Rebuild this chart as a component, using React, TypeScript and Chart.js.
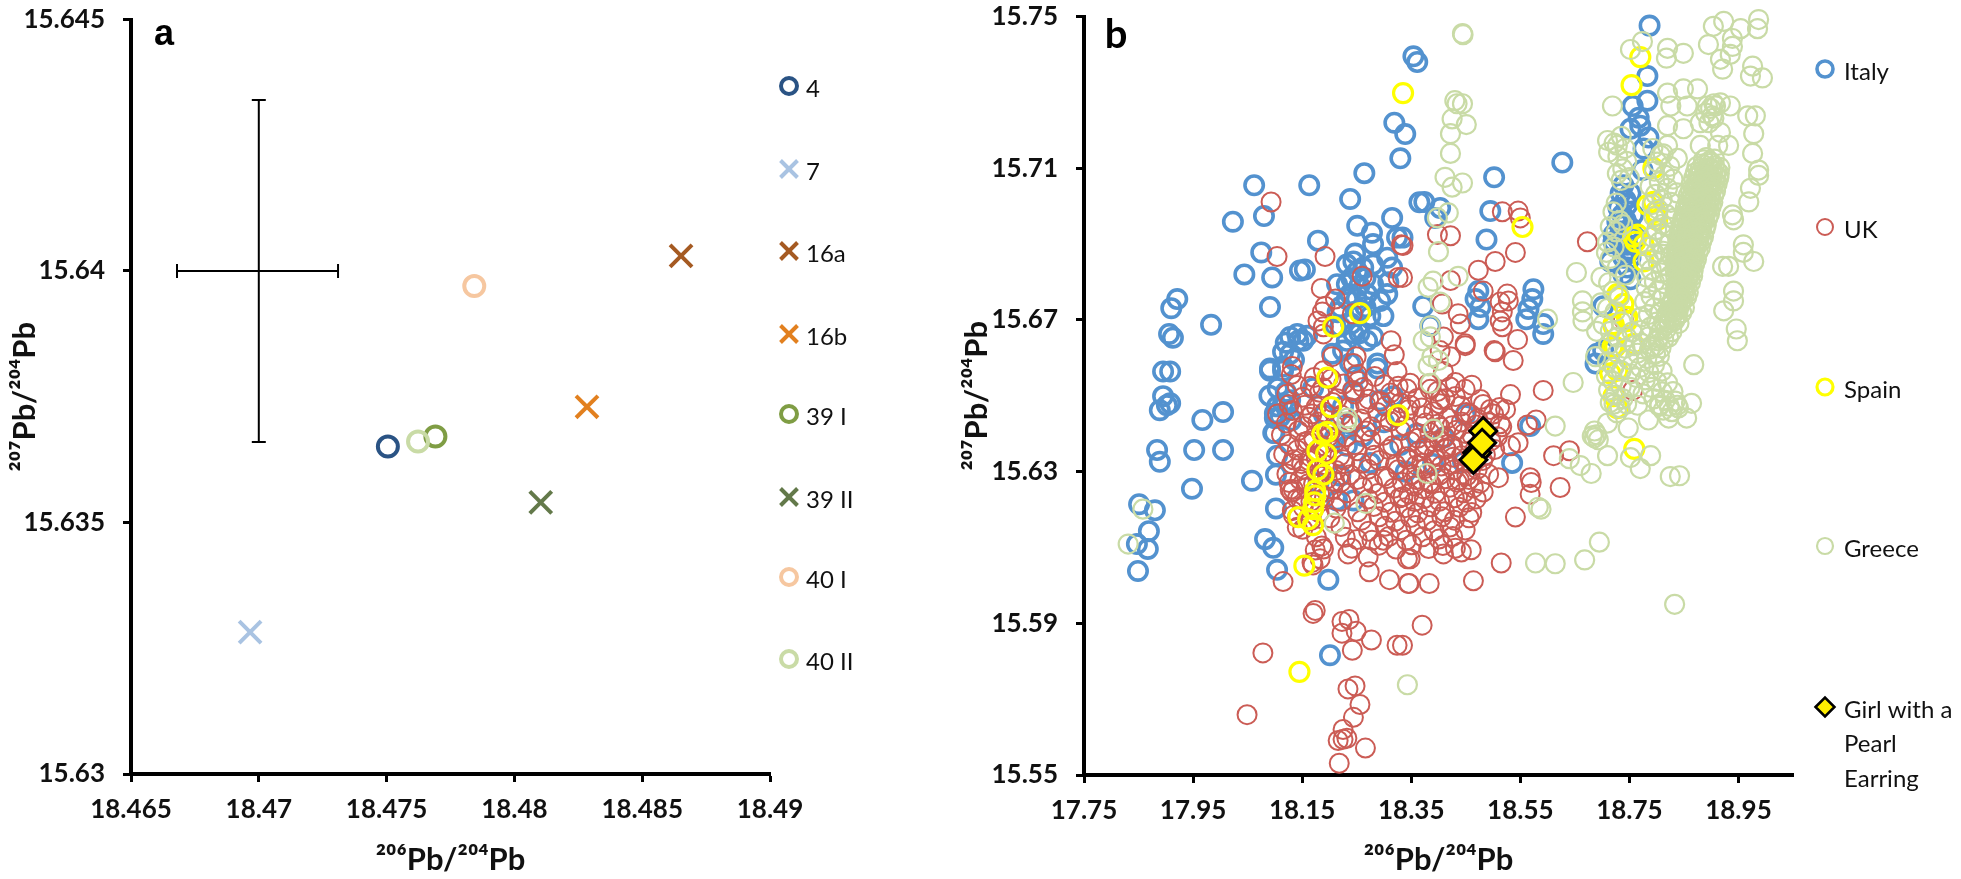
import React, { useEffect, useRef } from "react";
import { Chart, registerables } from "chart.js";
import { drawPoint } from "chart.js/helpers";

Chart.register(...registerables);

type P = [number, number];

const TICK_FONT = "Lato, Carlito, sans-serif";

// ---------- Panel a ----------
const xTicksA = [18.465, 18.47, 18.475, 18.48, 18.485, 18.49];
const yTicksA = [15.63, 15.635, 15.64, 15.645];
const sample4: P[] = [[18.47505, 15.63651]];
const sample7: P[] = [[18.46966, 15.63282]];
const sample16a: P[] = [[18.48652, 15.6403]];
const sample16b: P[] = [[18.48284, 15.6373]];
const sample39I: P[] = [[18.47691, 15.63671]];
const sample39II: P[] = [[18.48103, 15.6354]];
const sample40I: P[] = [[18.47843, 15.6397]];
const sample40II: P[] = [[18.47623, 15.63661]];
const errorV: P[] = [[18.47, 15.6434], [18.47, 15.6366]];
const errorH: P[] = [[18.4668, 15.64], [18.4731, 15.64]];

// ---------- Panel b ----------
const xTicksB = [17.75, 17.95, 18.15, 18.35, 18.55, 18.75, 18.95];
const yTicksB = [15.55, 15.59, 15.63, 15.67, 15.71, 15.75];

const italy: P[] = [
  [18.354,15.7395],[18.361,15.738],[18.319,15.722],[18.339,15.719],[18.33,15.7126],[18.264,15.7087],[18.238,15.7019],[18.163,15.7055],
  [18.062,15.7055],[18.08,15.6974],[18.023,15.6959],[18.251,15.6948],[18.278,15.693],[18.28,15.69],[18.315,15.6969],[18.324,15.6917],
  [18.365,15.701],[18.179,15.6909],[18.075,15.6878],[18.044,15.682],[18.095,15.6812],[18.146,15.683],[18.155,15.6833],[18.091,15.6734],
  [17.921,15.6755],[17.91,15.6731],[17.983,15.6687],[17.906,15.6663],[17.913,15.6653],[17.895,15.6564],[17.908,15.6564],[17.895,15.6499],
  [17.908,15.648],[17.889,15.6462],[17.902,15.6475],[18.005,15.6457],[17.967,15.6436],[17.884,15.6357],[17.952,15.6357],[18.005,15.6357],
  [17.889,15.6326],[17.948,15.6255],[18.058,15.6276],[18.102,15.6292],[18.104,15.6342],[18.099,15.6402],[18.1,15.6441],[18.102,15.6203],
  [17.851,15.6214],[17.88,15.6198],[17.869,15.6143],[17.867,15.6096],[17.847,15.6109],[17.849,15.6038],[18.082,15.6122],[18.097,15.6099],
  [18.104,15.6041],[18.198,15.6015],[18.201,15.5816],
  [18.247,15.6875],[18.232,15.6846],[18.306,15.6864],[18.315,15.6838],[18.262,15.6838],[18.251,15.6828],[18.244,15.6854],[18.28,15.6846],
  [18.214,15.6794],[18.238,15.6768],[18.306,15.6768],[18.308,15.6799],[18.293,15.675],[18.299,15.671],[18.269,15.6768],[18.28,15.6794],
  [18.232,15.6794],[18.266,15.6734],[18.22,15.6734],[18.28,15.6656],[18.244,15.6664],[18.269,15.6645],[18.232,15.6645],[18.22,15.6682],
  [18.211,15.6684],[18.288,15.6585],[18.205,15.6611],[18.238,15.6585],[18.225,15.6619],[18.141,15.6663],[18.159,15.6658],[18.128,15.6655],
  [18.143,15.6645],[18.152,15.6645],[18.115,15.6616],[18.128,15.6611],[18.091,15.6572],[18.115,15.6577],[18.091,15.6566],[18.115,15.6566],
  [18.288,15.6572],[18.247,15.6551],[18.244,15.6512],[18.104,15.6472],[18.115,15.648],[18.1,15.6454],[18.123,15.6462],[18.097,15.6402],
  [18.128,15.6488],[18.225,15.6472],[18.262,15.6394],[18.232,15.6368],[18.275,15.6323],[18.22,15.6289],[18.214,15.6224],[18.244,15.6224],
  [18.293,15.6488],[18.317,15.6499],[18.449,15.6449],[18.568,15.642],[18.535,15.6323],[18.627,15.7115],[18.502,15.7076],[18.374,15.7011],
  [18.403,15.6995],[18.394,15.6969],[18.495,15.6987],[18.488,15.6912],[18.334,15.6917],[18.574,15.6781],[18.572,15.6755],[18.565,15.6729],
  [18.561,15.6702],[18.592,15.6689],[18.592,15.6663],[18.473,15.6776],[18.468,15.6755],[18.477,15.6734],[18.473,15.6702],[18.372,15.6736],
  [18.385,15.6684],
  [18.787,15.7476],[18.783,15.7343],[18.783,15.7278],[18.767,15.7233],[18.756,15.7264],[18.785,15.7181],[18.77,15.7212],[18.752,15.7204],
  [18.776,15.7152],[18.774,15.7095],[18.739,15.7055],[18.734,15.7034],[18.752,15.7034],[18.73,15.6995],[18.746,15.7003],[18.728,15.6959],
  [18.757,15.6977],[18.734,15.6933],[18.752,15.6943],[18.721,15.6925],[18.761,15.6917],[18.721,15.6906],[18.746,15.6898],[18.739,15.6864],
  [18.752,15.6864],[18.715,15.6854],[18.746,15.6838],[18.752,15.6807],[18.739,15.682],[18.702,15.6736],[18.691,15.6611],[18.702,15.6619],
  [18.688,15.6585],[18.743,15.7016],[18.737,15.6977],[18.743,15.6964],[18.748,15.6925],[18.737,15.6898],[18.73,15.6911],[18.743,15.6877],
  [18.752,15.6882],
  [18.24,15.681],[18.255,15.679],[18.266,15.681],[18.25,15.6755],[18.232,15.6755],[18.258,15.6725],[18.275,15.671],[18.24,15.669],
  [18.255,15.6665],[18.215,15.672],[18.12,15.664],[18.135,15.6595],[18.105,15.652],[18.12,15.651],[18.09,15.65],[18.11,15.6445],[18.13,15.6435],
  [18.3,15.643],[18.33,15.637],[18.36,15.64],[18.34,15.63],[18.39,15.632],[18.41,15.639],[18.445,15.6325],[18.17,15.652],[18.19,15.645],
  [18.21,15.639],[18.18,15.627],[18.24,15.6425],
];

const ukSparse: P[] = [
  [18.093,15.7011],[18.104,15.6867],[18.192,15.6867],[18.332,15.6898],[18.326,15.6812],[18.26,15.6815],[18.185,15.6783],[18.211,15.6755],
  [18.192,15.6736],[18.187,15.6721],[18.179,15.6697],[18.189,15.6682],[18.189,15.6663],[18.242,15.6716],[18.313,15.6645],[18.319,15.6608],
  [18.324,15.6564],[18.205,15.6603],[18.249,15.6603],[18.244,15.6585],[18.251,15.6556],[18.132,15.6577],[18.198,15.6548],[18.165,15.6525],
  [18.155,15.6475],[18.189,15.6566],[18.242,15.6514],[18.293,15.6485],[18.348,15.6533],[18.326,15.6525],
  [18.517,15.6985],[18.546,15.6987],[18.55,15.6969],[18.398,15.6925],[18.422,15.6922],[18.335,15.6896],[18.673,15.6906],[18.541,15.6878],
  [18.504,15.6854],[18.473,15.6831],[18.422,15.6804],[18.334,15.6812],[18.526,15.6768],[18.482,15.6776],[18.513,15.6747],[18.528,15.675],
  [18.436,15.6716],[18.517,15.6721],[18.513,15.6697],[18.407,15.6742],[18.44,15.6689],[18.517,15.6682],[18.545,15.6648],[18.502,15.6619],
  [18.449,15.6637],[18.537,15.6593],[18.592,15.6514],[18.756,15.6514],[18.739,15.6702],[18.409,15.6655],[18.403,15.6619],[18.422,15.6603],
  [18.504,15.6616],[18.449,15.6632],[18.563,15.6423],[18.579,15.6436],[18.546,15.6376],[18.532,15.6368],[18.611,15.6342],[18.64,15.6355],
  [18.568,15.6284],[18.57,15.6271],[18.568,15.624],[18.623,15.6258],[18.541,15.618],[18.51,15.6284],[18.515,15.6059],[18.464,15.6012],
  [18.383,15.6005],[18.346,15.6005],[18.37,15.5895],[18.334,15.5842],[18.46,15.6094],[18.442,15.6088],[18.409,15.6083],
  [18.115,15.601],[18.174,15.5934],[18.17,15.5926],[18.236,15.591],[18.223,15.5905],[18.223,15.5874],[18.249,15.5879],[18.277,15.5856],
  [18.324,15.5842],[18.242,15.5829],[18.078,15.5822],[18.247,15.5735],[18.234,15.5727],[18.256,15.5686],[18.244,15.5652],[18.225,15.562],
  [18.216,15.5591],[18.232,15.5597],[18.225,15.5594],[18.266,15.5571],[18.218,15.5531],[18.049,15.5659],
  [18.234,15.6083],[18.189,15.6096],[18.174,15.6093],[18.183,15.607],[18.17,15.6054],[18.168,15.606],[18.229,15.6127],[18.273,15.6036],
  [18.31,15.6015],[18.345,15.6005],[18.278,15.6119],[18.299,15.6119],[18.271,15.6075],[18.343,15.607],[18.348,15.607],[18.141,15.6153],
  [18.134,15.6185],[18.128,15.6253],[18.134,15.6253],[18.134,15.6331],
];

const ukCore: P[] = [
  [18.13,15.6556],[18.172,15.6548],[18.203,15.6544],[18.253,15.6538],[18.283,15.6551],
  [18.122,15.6504],[18.151,15.6496],[18.182,15.6509],[18.214,15.6492],[18.246,15.6505],[18.272,15.6491],[18.312,15.6507],[18.361,15.6493],[18.398,15.6511],[18.431,15.6498],
  [18.105,15.6452],[18.132,15.6461],[18.163,15.6443],[18.191,15.6457],[18.222,15.6449],[18.258,15.6439],[18.288,15.6456],[18.321,15.6444],[18.345,15.6463],[18.372,15.6447],[18.391,15.6458],[18.418,15.6441],[18.451,15.6456],[18.472,15.6439],[18.501,15.6452],
  [18.112,15.6397],[18.143,15.6408],[18.171,15.6389],[18.202,15.6404],[18.231,15.6392],[18.267,15.6407],[18.298,15.6395],[18.331,15.6408],[18.362,15.6388],[18.384,15.6403],[18.412,15.6391],[18.433,15.6409],[18.462,15.6394],[18.481,15.6406],[18.508,15.6392],
  [18.116,15.6346],[18.141,15.6357],[18.166,15.6338],[18.192,15.6352],[18.219,15.6341],[18.251,15.6355],[18.282,15.6343],[18.309,15.6358],[18.341,15.6339],[18.364,15.6354],[18.392,15.6343],[18.414,15.6359],[18.442,15.6342],[18.466,15.6356],[18.486,15.6344],[18.503,15.6358],
  [18.122,15.6294],[18.153,15.6307],[18.181,15.6289],[18.212,15.6303],[18.238,15.6292],[18.271,15.6306],[18.301,15.6288],[18.326,15.6305],[18.352,15.6293],[18.376,15.6308],[18.402,15.6291],[18.428,15.6304],[18.452,15.6289],[18.471,15.6306],[18.492,15.6293],
  [18.131,15.6246],[18.157,15.6257],[18.182,15.6241],[18.206,15.6254],[18.232,15.6244],[18.261,15.6258],[18.289,15.6242],[18.318,15.6256],[18.346,15.6241],[18.371,15.6255],[18.394,15.6243],[18.421,15.6259],[18.446,15.6244],[18.464,15.6257],[18.482,15.6246],
  [18.132,15.6197],[18.152,15.6206],[18.181,15.6192],[18.212,15.6204],[18.252,15.6194],[18.281,15.6208],[18.312,15.6193],[18.339,15.6205],[18.362,15.6191],[18.386,15.6207],[18.411,15.6194],[18.438,15.6206],[18.461,15.6192],
  [18.151,15.6148],[18.221,15.6155],[18.272,15.6143],[18.302,15.6156],[18.331,15.6147],[18.358,15.6158],[18.392,15.6144],[18.421,15.6154],[18.449,15.6146],
  [18.186,15.6104],[18.241,15.6098],[18.291,15.6106],[18.322,15.6096],[18.351,15.6107],[18.382,15.6097],[18.408,15.6105],[18.431,15.6098],
  [18.409,15.6564],[18.431,15.6535],[18.449,15.6517],[18.477,15.649],[18.495,15.6464],[18.532,15.6503],[18.523,15.6464],[18.385,15.6517],[18.403,15.649],[18.348,15.6475],[18.412,15.6492],[18.458,15.6452],[18.513,15.6426],
  [18.425,15.6421],[18.392,15.6378],[18.375,15.6362],[18.427,15.6338],[18.405,15.6315],[18.438,15.6278],[18.383,15.6271],[18.359,15.6317],[18.356,15.6262],[18.335,15.6234],[18.413,15.6362],[18.447,15.6401],[18.398,15.6425],
  [18.168,15.6452],[18.155,15.6378],[18.149,15.6321],[18.16,15.6267],[18.147,15.6228],[18.196,15.6302],[18.176,15.6335],[18.198,15.6392],[18.21,15.6274],[18.228,15.6321],
];

const ukCoreInfill: P[] = [
  [18.141,15.6527],[18.188,15.6521],[18.226,15.6531],[18.262,15.6522],[18.301,15.6529],[18.342,15.6518],[18.381,15.6531],[18.421,15.6523],[18.461,15.6528],
  [18.126,15.6476],[18.176,15.6471],[18.206,15.6482],[18.236,15.6469],[18.266,15.6478],[18.303,15.6472],[18.331,15.6481],[18.369,15.6468],[18.402,15.6479],[18.441,15.6473],[18.482,15.6477],[18.512,15.6469],
  [18.121,15.6428],[18.152,15.6419],[18.179,15.6431],[18.209,15.6422],[18.241,15.6429],[18.276,15.6418],[18.311,15.6432],[18.338,15.6421],[18.376,15.6428],[18.403,15.6417],[18.442,15.6431],[18.469,15.6423],[18.494,15.6429],[18.516,15.6418],
  [18.126,15.6372],[18.161,15.6381],[18.186,15.6369],[18.211,15.6378],[18.246,15.6371],[18.276,15.6383],[18.316,15.6368],[18.349,15.6379],[18.377,15.6371],[18.401,15.6382],[18.426,15.6369],[18.456,15.6378],[18.476,15.6372],[18.496,15.6381],
  [18.131,15.6321],[18.162,15.6329],[18.191,15.6318],[18.226,15.6331],[18.259,15.6322],[18.291,15.6329],[18.321,15.6319],[18.344,15.6332],[18.369,15.6322],[18.396,15.6331],[18.419,15.6319],[18.446,15.6328],[18.461,15.6321],[18.481,15.6329],
  [18.126,15.6271],[18.146,15.6279],[18.171,15.6268],[18.196,15.6281],[18.221,15.6272],[18.251,15.6279],[18.279,15.6269],[18.306,15.6282],[18.334,15.6271],[18.359,15.6279],[18.386,15.6268],[18.412,15.6281],[18.434,15.6272],[18.456,15.6279],[18.476,15.6269],
  [18.141,15.6229],[18.166,15.6221],[18.191,15.6231],[18.221,15.6222],[18.271,15.6228],[18.301,15.6219],[18.329,15.6231],[18.356,15.6221],[18.374,15.6229],[18.402,15.6222],[18.429,15.6231],[18.451,15.6219],[18.469,15.6228],
  [18.141,15.6179],[18.166,15.6171],[18.201,15.6178],[18.259,15.6172],[18.291,15.6181],[18.321,15.6169],[18.349,15.6179],[18.379,15.6171],[18.406,15.6181],[18.429,15.6172],[18.456,15.6178],
  [18.176,15.6128],[18.251,15.6121],[18.309,15.6129],[18.341,15.6119],[18.371,15.6128],[18.401,15.6122],[18.426,15.6129],
];

const spain: P[] = [
  [18.196,15.6548],[18.203,15.647],[18.187,15.6399],[18.196,15.6405],[18.178,15.6355],[18.194,15.6347],[18.178,15.6305],[18.189,15.6292],
  [18.174,15.625],[18.174,15.6237],[18.172,15.6219],[18.17,15.6201],[18.143,15.618],[18.17,15.6159],[18.161,15.6174],[18.326,15.6449],
  [18.154,15.6052],[18.145,15.5772],[18.207,15.6682],[18.256,15.6718],[18.335,15.7298],[18.554,15.6945],[18.77,15.7393],[18.754,15.7319],
  [18.757,15.6919],[18.783,15.7003],[18.765,15.6925],[18.798,15.6985],[18.801,15.6964],[18.794,15.7011],[18.801,15.6975],[18.776,15.6854],
  [18.728,15.6768],[18.721,15.6689],[18.746,15.6697],[18.719,15.6629],[18.728,15.6467],[18.728,15.6566],[18.757,15.6637],[18.739,15.6742],
  [18.794,15.71],[18.759,15.636],[18.73,15.676],[18.721,15.6684],[18.724,15.6629],[18.746,15.6708],[18.715,15.6559],[18.721,15.6499],
  [18.776,15.6898],[18.761,15.6906],
];

const greeceSparse: P[] = [
  [17.831,15.6109],[17.858,15.6201],[18.209,15.6164],[18.267,15.6216],[18.343,15.5738],[18.233,15.6441],[18.232,15.6431],[18.391,15.6412],
  [18.379,15.6295],[18.614,15.642],[18.583,15.6206],[18.588,15.6201],[18.695,15.6114],[18.668,15.6067],[18.578,15.6059],[18.614,15.6057],
  [18.833,15.595],[18.64,15.6334],[18.66,15.6316],[18.68,15.6295],[18.825,15.6287],[18.842,15.6289],[18.71,15.6342],[18.752,15.6337],
  [18.789,15.6342],[18.77,15.6308],[18.686,15.6407],[18.69,15.6397],[18.686,15.6389],[18.682,15.6394],[18.693,15.6384],[18.71,15.6428],
  [18.748,15.6415],[18.785,15.6436],[18.822,15.6441],[18.855,15.6441],[18.765,15.6475],[18.805,15.6472],[18.838,15.6475],[18.864,15.648],
  [18.444,15.7455],[18.445,15.7452],[18.43,15.7278],[18.434,15.727],[18.444,15.727],[18.425,15.723],[18.451,15.7215],[18.422,15.7191],
  [18.422,15.7139],[18.412,15.7076],[18.444,15.7061],[18.425,15.705],[18.418,15.6982],[18.398,15.6969],[18.4,15.688],[18.436,15.6815],
  [18.39,15.6802],[18.403,15.6747],[18.381,15.6786],[18.385,15.6684],[18.372,15.6645],[18.385,15.6655],[18.4,15.6593],[18.388,15.6603],
  [18.381,15.6579],[18.385,15.6533],[18.6,15.6702],
  [18.647,15.6535],[18.653,15.6825],[18.664,15.675],[18.664,15.6721],[18.665,15.6697],[18.69,15.667],[18.688,15.6603],[18.719,15.7264],
  [18.71,15.7173],[18.728,15.716],[18.752,15.7413],[18.774,15.7434],[18.82,15.7416],[18.818,15.739],[18.849,15.7403],[18.904,15.7474],
  [18.923,15.7487],[18.954,15.7468],[18.987,15.7492],[18.985,15.7468],[18.895,15.7426],[18.939,15.7442],[18.939,15.7421],[18.935,15.74],
  [18.917,15.7387],[18.921,15.7361],[18.976,15.7369],[18.972,15.7343],[18.994,15.7338],[18.967,15.7238],[18.981,15.7238],[18.978,15.7191],
  [18.976,15.7139],[18.987,15.7095],[18.987,15.7081],[18.972,15.7047],[18.969,15.7011],[18.941,15.6964],[18.939,15.6977],[18.959,15.6898],
  [18.978,15.6854],[18.959,15.6878],[18.921,15.6841],[18.932,15.6841],[18.941,15.6776],[18.941,15.675],[18.923,15.6724],[18.946,15.6676],
  [18.948,15.6645],[18.868,15.6582],
  [18.82,15.7298],[18.849,15.7309],[18.875,15.7309],[18.826,15.7264],[18.856,15.7264],[18.893,15.7264],[18.917,15.7272],[18.935,15.7264],
  [18.902,15.7238],[18.82,15.7212],[18.849,15.7204],[18.88,15.722],[18.917,15.7194],[18.82,15.716],[18.807,15.7134],[18.838,15.7126],
  [18.88,15.716],[18.912,15.716],[18.896,15.722],[18.908,15.7264],[18.899,15.7258],[18.905,15.727],[18.932,15.716],[18.89,15.7245],[18.905,15.7232],
];

const greeceBand: P[] = [
  [18.886,15.7122],[18.897,15.7118],[18.906,15.7124],
  [18.874,15.7104],[18.886,15.7108],[18.896,15.7101],[18.906,15.7106],[18.916,15.7102],
  [18.871,15.7088],[18.882,15.7092],[18.893,15.7085],[18.904,15.7091],[18.915,15.7086],
  [18.868,15.7074],[18.879,15.707],[18.891,15.7076],[18.902,15.7069],[18.914,15.7075],
  [18.864,15.7058],[18.876,15.7054],[18.888,15.706],[18.899,15.7053],[18.911,15.7059],
  [18.862,15.7042],[18.873,15.7046],[18.884,15.7039],[18.896,15.7045],[18.908,15.704],
  [18.858,15.7028],[18.87,15.7024],[18.882,15.703],[18.893,15.7023],[18.905,15.7029],
  [18.857,15.7012],[18.868,15.7016],[18.879,15.7009],[18.891,15.7015],[18.903,15.701],
  [18.853,15.6998],[18.865,15.6994],[18.876,15.7],[18.888,15.6993],[18.9,15.6999],
  [18.851,15.6982],[18.862,15.6986],[18.874,15.6979],[18.885,15.6985],[18.897,15.698],
  [18.848,15.6968],[18.859,15.6964],[18.871,15.697],[18.883,15.6963],[18.894,15.6969],
  [18.846,15.6952],[18.857,15.6956],[18.868,15.6949],[18.88,15.6955],[18.891,15.695],
  [18.843,15.6938],[18.854,15.6934],[18.866,15.694],[18.877,15.6933],[18.889,15.6939],
  [18.841,15.6922],[18.852,15.6926],[18.863,15.6919],[18.875,15.6925],[18.886,15.692],
  [18.839,15.6908],[18.85,15.6904],[18.861,15.691],[18.872,15.6903],[18.883,15.6909],
  [18.838,15.6892],[18.848,15.6896],[18.858,15.6889],[18.869,15.6895],[18.88,15.689],
  [18.836,15.6878],[18.846,15.6874],[18.856,15.688],[18.866,15.6873],[18.876,15.6879],
  [18.835,15.6862],[18.845,15.6866],[18.854,15.6859],[18.864,15.6865],[18.873,15.686],
  [18.834,15.6848],[18.843,15.6844],[18.852,15.685],[18.861,15.6843],[18.87,15.6849],
  [18.834,15.6832],[18.842,15.6836],[18.85,15.6829],[18.859,15.6835],[18.867,15.683],
  [18.835,15.6815],[18.843,15.6811],[18.851,15.6817],[18.858,15.681],[18.866,15.6816],
  [18.836,15.6795],[18.845,15.6799],[18.853,15.6792],[18.862,15.6798],
  [18.834,15.6778],[18.843,15.6774],[18.851,15.678],[18.858,15.6773],
  [18.83,15.6757],[18.839,15.6761],[18.847,15.6754],[18.855,15.676],
  [18.825,15.6738],[18.834,15.6734],[18.843,15.674],[18.851,15.6733],
  [18.819,15.6716],[18.829,15.672],[18.838,15.6713],[18.846,15.6719],
  [18.813,15.6696],[18.823,15.6692],[18.833,15.6698],[18.841,15.6691],
  [18.808,15.6672],[18.818,15.6676],[18.828,15.6669],
  [18.803,15.6652],[18.813,15.6648],[18.822,15.6654],
  [18.797,15.663],[18.808,15.6626],[18.787,15.6622],[18.798,15.6611],
];

const greeceBandInfill: P[] = [
  [18.891,15.7128],[18.901,15.7113],[18.88,15.7098],[18.89,15.7094],[18.9,15.7096],[18.91,15.7094],[18.876,15.708],[18.887,15.7083],[18.898,15.7079],[18.909,15.7081],
  [18.873,15.7064],[18.884,15.7066],[18.895,15.7063],[18.907,15.7066],[18.869,15.7049],[18.881,15.705],[18.892,15.7048],[18.904,15.7051],[18.866,15.7034],[18.877,15.7035],
  [18.889,15.7033],[18.9,15.7036],[18.863,15.702],[18.875,15.7019],[18.887,15.7021],[18.898,15.7018],[18.86,15.7005],[18.872,15.7004],[18.884,15.7006],[18.896,15.7003],
  [18.857,15.699],[18.869,15.6989],[18.881,15.6991],[18.892,15.6988],[18.854,15.6975],[18.866,15.6974],[18.878,15.6976],[18.889,15.6973],[18.851,15.696],[18.863,15.6959],
  [18.875,15.6961],[18.886,15.6958],[18.849,15.6945],[18.86,15.6944],[18.872,15.6946],[18.883,15.6943],[18.847,15.693],[18.858,15.6929],[18.869,15.6931],[18.881,15.6928],
  [18.845,15.6915],[18.856,15.6914],[18.867,15.6916],[18.878,15.6913],[18.843,15.69],[18.853,15.6899],[18.864,15.6901],[18.875,15.6898],[18.841,15.6885],[18.851,15.6884],
  [18.861,15.6886],[18.871,15.6883],[18.84,15.687],[18.85,15.6869],[18.859,15.6871],[18.869,15.6868],[18.839,15.6855],[18.848,15.6854],[18.857,15.6856],[18.866,15.6853],
  [18.838,15.684],[18.847,15.6839],[18.855,15.6841],[18.863,15.6838],[18.838,15.6823],[18.846,15.6822],[18.854,15.6824],[18.861,15.6821],[18.84,15.6805],[18.848,15.6804],
  [18.856,15.6806],[18.84,15.6786],[18.848,15.6785],[18.856,15.6787],[18.836,15.6767],[18.844,15.6766],[18.851,15.6768],[18.83,15.6746],[18.838,15.6745],[18.846,15.6747],
  [18.824,15.6726],[18.832,15.6725],[18.84,15.6727],[18.818,15.6705],[18.827,15.6704],[18.836,15.6706],
];

const greeceFlank: P[] = [
  [18.793,15.7152],[18.812,15.7138],[18.801,15.7116],[18.824,15.7105],[18.796,15.7092],[18.815,15.7082],[18.83,15.7071],[18.805,15.7064],
  [18.788,15.7052],[18.82,15.7047],[18.837,15.7035],[18.798,15.7031],[18.81,15.7018],[18.826,15.701],[18.792,15.7004],[18.803,15.6991],
  [18.818,15.6978],[18.832,15.6968],[18.795,15.6972],[18.81,15.6952],[18.824,15.6944],[18.8,15.6938],[18.815,15.6922],[18.792,15.6918],
  [18.805,15.6905],[18.822,15.69],[18.786,15.6892],[18.812,15.6881],[18.797,15.6874],[18.826,15.687],[18.785,15.6858],[18.803,15.6851],
  [18.818,15.6842],[18.79,15.6832],[18.808,15.6824],[18.824,15.6816],[18.782,15.6812],[18.796,15.68],[18.815,15.6795],[18.803,15.6778],
  [18.781,15.6785],[18.79,15.6762],[18.812,15.6758],[18.826,15.6742],[18.778,15.6748],[18.796,15.6732],[18.807,15.672],[18.785,15.6714],
  [18.772,15.6708],[18.8,15.6694],[18.815,15.6685],[18.789,15.6681],[18.771,15.6672],[18.785,15.6655],[18.802,15.6645],[18.772,15.6638],
  [18.79,15.6628],[18.765,15.6612],[18.782,15.6598],[18.805,15.6604],[18.796,15.6582],[18.77,15.6575],[18.786,15.6561],[18.81,15.6565],
  [18.779,15.6542],[18.763,15.6548],[18.8,15.6538],[18.82,15.6534],[18.79,15.6522],[18.81,15.651],[18.775,15.6505],[18.83,15.6511],
  [18.795,15.6492],[18.816,15.6488],[18.806,15.6476],[18.834,15.6486],[18.823,15.6472],[18.812,15.6462],[18.84,15.6468],[18.828,15.6458],
  [18.735,15.7184],[18.722,15.7166],[18.742,15.7152],[18.729,15.7131],[18.712,15.7142],[18.745,15.7118],[18.738,15.7098],[18.728,15.7086],
  [18.75,15.7075],[18.735,15.7068],[18.726,15.7008],[18.72,15.6985],[18.732,15.6962],[18.715,15.6946],[18.738,15.6951],[18.726,15.6932],
  [18.71,15.6905],[18.722,15.6892],[18.708,15.6878],[18.715,15.6862],[18.728,15.6838],[18.743,15.6818],[18.698,15.6812],[18.712,15.6798],
  [18.72,15.6775],[18.732,15.6762],[18.698,15.6745],[18.71,15.673],[18.724,15.6722],[18.735,15.6695],[18.702,15.6688],[18.715,15.667],
  [18.728,15.6654],[18.745,15.6655],[18.755,15.6668],[18.76,15.6632],[18.742,15.6625],[18.712,15.6635],[18.728,15.6612],[18.748,15.6596],
  [18.71,15.659],[18.722,15.6575],[18.735,15.6566],[18.752,15.6558],[18.708,15.6552],[18.72,15.6538],[18.735,15.6525],[18.751,15.6522],
  [18.712,15.6515],[18.725,15.6502],[18.738,15.6492],[18.722,15.6478],[18.733,15.6468],[18.715,15.6482],[18.745,15.6478],[18.727,15.6455],
];

const girlPearl: P[] = [[18.471, 15.635], [18.482, 15.6407], [18.464, 15.6331], [18.48, 15.6376]];

const legendA = [
  { label: "4", top: 86 },
  { label: "7", top: 169 },
  { label: "16a", top: 251 },
  { label: "16b", top: 334 },
  { label: "39 I", top: 414 },
  { label: "39 II", top: 497 },
  { label: "40 I", top: 577 },
  { label: "40 II", top: 659 },
];
const legendB = [
  { label: ["Italy"], top: 69 },
  { label: ["UK"], top: 227 },
  { label: ["Spain"], top: 387 },
  { label: ["Greece"], top: 546 },
  { label: ["Girl with a", "Pearl", "Earring"], top: 707 },
];

function style(order: number, color: string, shape: string, r: number, bw: number, fill = "transparent") {
  return {
    order,
    pointStyle: shape, pointRadius: r, pointBorderColor: color, pointBackgroundColor: fill,
    pointBorderWidth: bw, pointHoverRadius: r, showLine: false, clip: false as any,
  };
}

function legendPlugin(items: { label: string[] | string; top: number }[], styles: any[], markerX: number, textX: number, letter: string, letterX: number, letterY: number, letterFont: string) {
  return {
    id: "panelLegend",
    afterDraw(chart: any) {
      const ctx = chart.ctx;
      ctx.save();
      items.forEach((it, i) => {
        const s = styles[i];
        ctx.strokeStyle = s.color;
        ctx.fillStyle = s.fill;
        ctx.lineWidth = s.bw;
        drawPoint(ctx, { pointStyle: s.shape, rotation: 0, radius: s.r, borderWidth: s.bw }, markerX, it.top);
        ctx.fillStyle = "#111";
        ctx.font = `24px ${TICK_FONT}`;
        ctx.textBaseline = "middle";
        ctx.textAlign = "left";
        const lines = Array.isArray(it.label) ? it.label : [it.label];
        lines.forEach((t, k) => ctx.fillText(t, textX, it.top + 3 + k * 34.5));
      });
      ctx.fillStyle = "#000";
      ctx.font = letterFont;
      ctx.textBaseline = "middle";
      ctx.textAlign = "center";
      ctx.fillText(letter, letterX, letterY);
      ctx.restore();
    },
  };
}

function axis(ticks: number[], min: number, max: number, title: string, horizontal: boolean, fit: number, titlePad: any) {
  return {
    type: "linear", min, max,
    afterBuildTicks: (s: any) => { s.ticks = ticks.map((v) => ({ value: v })); },
    afterFit: (s: any) => {
      if (horizontal) s.height = fit; else s.width = fit;
      s.paddingTop = 0; s.paddingBottom = 0; s.paddingLeft = 0; s.paddingRight = 0;
    },
    border: { display: true, color: "#000", width: 4 },
    grid: { drawOnChartArea: false, drawTicks: true, tickLength: 8, tickWidth: 3, tickColor: "#000" },
    ticks: {
      autoSkip: false, maxRotation: 0, minRotation: 0, color: "#111", padding: horizontal ? 12 : 18,
      font: { family: TICK_FONT, size: 26, weight: "bold" },
      callback: (v: number) => String(v),
    },
    title: { display: true, text: title, color: "#111", padding: titlePad, font: { family: TICK_FONT, size: 31, weight: "bold", lineHeight: 1.2 } },
  };
}

const ERR = { order: 20, showLine: true, borderColor: "#000", borderWidth: 2, pointStyle: "line", pointRadius: 7, pointBorderColor: "#000", pointBorderWidth: 2, clip: false as any };

export default function App() {
  const aRef = useRef<HTMLCanvasElement>(null);
  const bRef = useRef<HTMLCanvasElement>(null);

  useEffect(() => {
    document.body.style.margin = "0";
    document.body.style.background = "#fff";

    const C4 = "#2a5384", C7 = "#a9c3e2", C16a = "#a55a22", C16b = "#e2801f", C39I = "#7f9d44", C39II = "#63794a", C40I = "#f6c7a0", C40II = "#c9dba6";
    const chartA = new Chart(aRef.current!, {
      type: "scatter",
      data: {
        datasets: [
          { label: "error y", data: errorV.map(([x, y]) => ({ x, y })), ...ERR },
          { label: "error x", data: errorH.map(([x, y]) => ({ x, y })), ...ERR, pointRotation: 90 },
          { label: "4", data: sample4.map(([x, y]) => ({ x, y })), ...style(8, C4, "circle", 10, 4) },
          { label: "7", data: sample7.map(([x, y]) => ({ x, y })), ...style(7, C7, "crossRot", 15.5, 4) },
          { label: "16a", data: sample16a.map(([x, y]) => ({ x, y })), ...style(6, C16a, "crossRot", 15.5, 4) },
          { label: "16b", data: sample16b.map(([x, y]) => ({ x, y })), ...style(5, C16b, "crossRot", 15.5, 4) },
          { label: "39 I", data: sample39I.map(([x, y]) => ({ x, y })), ...style(4, C39I, "circle", 10, 4) },
          { label: "39 II", data: sample39II.map(([x, y]) => ({ x, y })), ...style(3, C39II, "crossRot", 15.5, 4) },
          { label: "40 I", data: sample40I.map(([x, y]) => ({ x, y })), ...style(2, C40I, "circle", 10, 4) },
          { label: "40 II", data: sample40II.map(([x, y]) => ({ x, y })), ...style(1, C40II, "circle", 10, 4) },
        ],
      } as any,
      options: {
        responsive: false, animation: false,
        layout: { padding: { left: 0, top: 16, right: 950 - 770, bottom: 0 } },
        plugins: { legend: { display: false }, tooltip: { enabled: false } },
        scales: {
          x: axis(xTicksA, 18.465, 18.49, "²⁰⁶Pb/²⁰⁴Pb", true, 879 - 774, { top: 0, bottom: 0 }),
          y: axis(yTicksA, 15.63, 15.645, "²⁰⁷Pb/²⁰⁴Pb", false, 131, { top: 6, bottom: 0 }),
        },
      } as any,
      plugins: [legendPlugin(legendA, [
        { color: C4, fill: "transparent", shape: "circle", r: 8, bw: 4 },
        { color: C7, fill: "transparent", shape: "crossRot", r: 12, bw: 4 },
        { color: C16a, fill: "transparent", shape: "crossRot", r: 12, bw: 4 },
        { color: C16b, fill: "transparent", shape: "crossRot", r: 12, bw: 4 },
        { color: C39I, fill: "transparent", shape: "circle", r: 8, bw: 4 },
        { color: C39II, fill: "transparent", shape: "crossRot", r: 12, bw: 4 },
        { color: C40I, fill: "transparent", shape: "circle", r: 8, bw: 4 },
        { color: C40II, fill: "transparent", shape: "circle", r: 8, bw: 4 },
      ], 789, 806, "a", 164, 35, 'bold 36px "Liberation Sans", Arial, sans-serif')] as any,
    });

    const CI = "#5392cf", CU = "#cb5c55", CS = "#ffff00", CG = "#c9dba6";
    const chartB = new Chart(bRef.current!, {
      type: "scatter",
      data: {
        datasets: [
          { label: "Italy", data: italy.map(([x, y]) => ({ x, y })), ...style(5, CI, "circle", 9.2, 3.6) },
          { label: "UK", data: [...ukSparse, ...ukCore, ...ukCoreInfill].map(([x, y]) => ({ x, y })), ...style(4, CU, "circle", 9.5, 2) },
          { label: "Spain", data: spain.map(([x, y]) => ({ x, y })), ...style(3, CS, "circle", 9.5, 3.2) },
          { label: "Greece", data: [...greeceSparse, ...greeceFlank, ...greeceBand, ...greeceBandInfill].map(([x, y]) => ({ x, y })), ...style(2, CG, "circle", 9.5, 2.2) },
          { label: "Girl with a Pearl Earring", data: girlPearl.map(([x, y]) => ({ x, y })), ...style(1, "#000", "rectRot", 13.5, 3, "#ffee00") },
        ],
      } as any,
      options: {
        responsive: false, animation: false,
        layout: { padding: { left: 0, top: 10, right: 1961 - 1793, bottom: 0 } },
        plugins: { legend: { display: false }, tooltip: { enabled: false } },
        scales: {
          x: axis(xTicksB, 17.75, 19.05, "²⁰⁶Pb/²⁰⁴Pb", true, 879 - 775, { top: 0, bottom: 0 }),
          y: axis(yTicksB, 15.55, 15.75, "²⁰⁷Pb/²⁰⁴Pb", false, 1084 - 950, { top: 8, bottom: 0 }),
        },
      } as any,
      plugins: [legendPlugin(legendB, [
        { color: CI, fill: "transparent", shape: "circle", r: 8, bw: 3.6 },
        { color: CU, fill: "transparent", shape: "circle", r: 8, bw: 2 },
        { color: CS, fill: "transparent", shape: "circle", r: 8, bw: 3.2 },
        { color: CG, fill: "transparent", shape: "circle", r: 8, bw: 2.2 },
        { color: "#000", fill: "#ffee00", shape: "rectRot", r: 9.5, bw: 2.5 },
      ], 1825 - 950, 1844 - 950, "b", 1116 - 950, 35, `bold 40px ${TICK_FONT}`)] as any,
    });

    return () => { chartA.destroy(); chartB.destroy(); };
  }, []);

  return (
    <div style={{ position: "absolute", left: 0, top: 0, width: 1961, height: 879, overflow: "hidden", background: "#fff" }}>
      <canvas ref={aRef} width={950} height={879} style={{ position: "absolute", left: 0, top: 0, width: 950, height: 879 }} />
      <canvas ref={bRef} width={1011} height={879} style={{ position: "absolute", left: 950, top: 0, width: 1011, height: 879 }} />
    </div>
  );
}
